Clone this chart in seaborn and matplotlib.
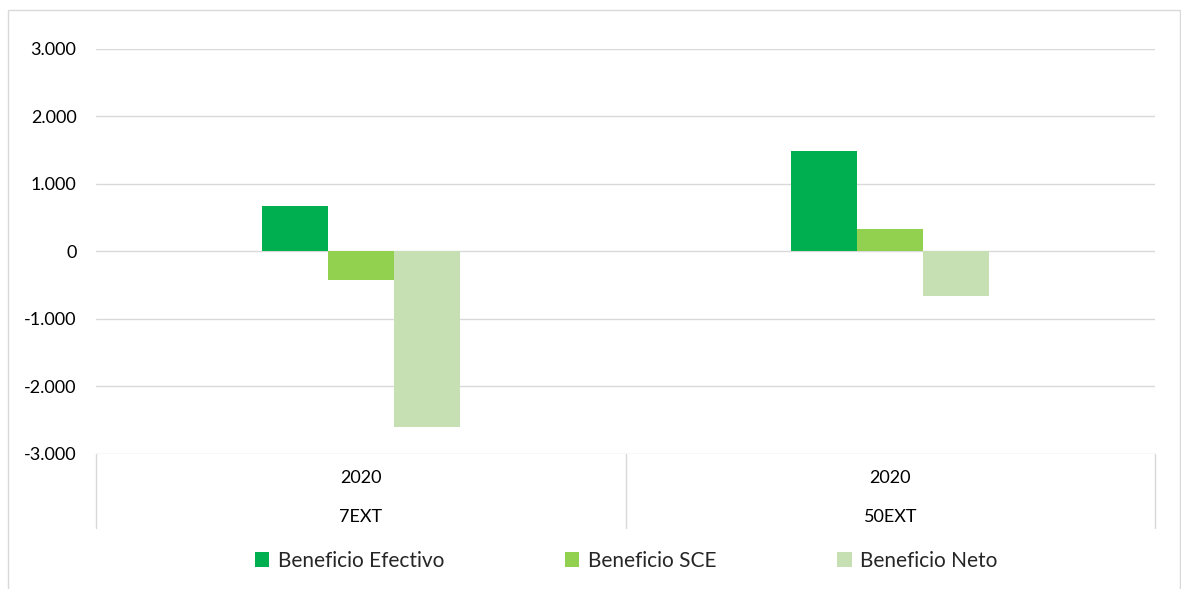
import matplotlib
matplotlib.use("Agg")
import matplotlib.pyplot as plt
from matplotlib.patches import Rectangle, Patch
from matplotlib.lines import Line2D
from matplotlib.ticker import FuncFormatter
import seaborn as sns
import pandas as pd

# Data
escenarios = ["7EXT", "50EXT"]
anios = ["2020", "2020"]
series = ["Beneficio Efectivo", "Beneficio SCE", "Beneficio Neto"]
beneficio_efectivo = [681, 1486]
beneficio_sce = [-415, 326]
beneficio_neto = [-2607, -660]
colores = ["#00B050", "#92D050", "#C6E0B4"]

valores = [beneficio_efectivo, beneficio_sce, beneficio_neto]
filas = []
for s, vals in zip(series, valores):
    for esc, v in zip(escenarios, vals):
        filas.append({"escenario": esc, "serie": s, "valor": v})
df = pd.DataFrame(filas)

sns.set_theme(style="white")
plt.rcParams["font.family"] = ["Lato", "DejaVu Sans"]

fig = plt.figure(figsize=(11.81, 5.89), dpi=100)
ax = fig.add_axes([96 / 1181, 1 - 454 / 589, (1155 - 96) / 1181, (454 - 49) / 589])

sns.barplot(data=df, x="escenario", y="valor", hue="serie", order=escenarios,
            hue_order=series, palette=colores, width=0.374, gap=0,
            linewidth=0, saturation=1, ax=ax, legend=False)

ax.set_ylim(-3000, 3000)
ax.set_xlim(-0.5, 1.5)
ax.set_yticks(range(-3000, 3001, 1000))
ax.yaxis.set_major_formatter(FuncFormatter(lambda v, p: f"{int(v):,}".replace(",", ".")))
ax.tick_params(axis="y", length=0, pad=14, labelsize=13, colors="#000000")
ax.set_xticks([])
ax.set_xlabel("")
ax.set_ylabel("")
for sp in ax.spines.values():
    sp.set_visible(False)
ax.yaxis.grid(True, color="#d9d9d9", linewidth=1.0)
ax.set_axisbelow(True)

# Multi-level category axis
ext = (528 - 454) / 405
for xf in [0, 0.5, 1.0]:
    ax.add_line(Line2D([xf, xf], [0, -ext], transform=ax.transAxes,
                       color="#d9d9d9", linewidth=1.0, clip_on=False))
trans = ax.get_xaxis_transform()
for i, (esc, an) in enumerate(zip(escenarios, anios)):
    ax.text(i, -(478 - 454) / 405, an, transform=trans, ha="center", va="center",
            fontsize=13, color="#000000")
    ax.text(i, -(517 - 454) / 405, esc, transform=trans, ha="center", va="center",
            fontsize=13, color="#000000")

# Legend
handles = [Patch(facecolor=c, edgecolor="none", label=s) for c, s in zip(colores, series)]
fig.legend(handles=handles, loc="center", bbox_to_anchor=(0.530, 1 - 561 / 589),
           ncol=3, frameon=False, fontsize=15, handlelength=0.7, handleheight=0.7,
           handletextpad=0.4, columnspacing=5.8)

# Chart area border
fig.patches.append(Rectangle((8 / 1181, -0.01), (1180 - 8) / 1181, 1 - 10 / 589 + 0.01,
                             transform=fig.transFigure, fill=False,
                             edgecolor="#d9d9d9", linewidth=1.0))

fig.savefig("out.png", dpi=100)
